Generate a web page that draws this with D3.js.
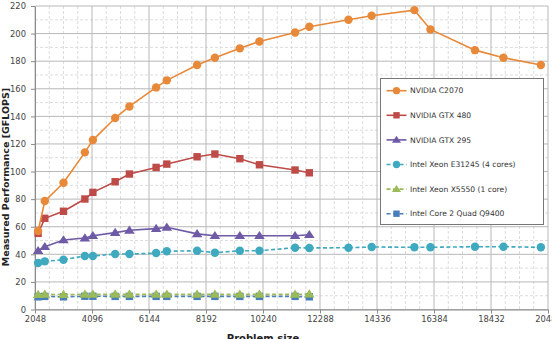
<!DOCTYPE html>
<html><head><meta charset="utf-8">
<script src="https://cdn.jsdelivr.net/npm/d3@7"></script>
<style>body{margin:0;background:#fff}svg{display:block}</style>
</head><body>
<svg id="c" width="552" height="339"></svg>
<script>
const xTicks = [2048,4096,6144,8192,10240,12288,14336,16384,18432,20480];
const yTicks = [0,20,40,60,80,100,120,140,160,180,200,220];

const xGpu = [2160,2400,3072,3840,4128,4928,5440,6400,6784,7872,8512,9408,10112,11392,11904];
const xLong = [2160,2400,3072,3840,4128,4928,5440,6400,6784,7872,8512,9408,10112,11392,11904,13312,14144,15680,16256,17856,18880,20224];

const c2070 = [56.9,78.6,91.9,113.9,122.8,138.8,147.2,161.0,166.1,177.2,182.5,189.3,194.3,200.8,204.9,210.0,212.9,217.0,203.0,188.0,182.5,177.2];
const gtx480 = [55.2,66.1,71.2,80.1,84.9,92.6,98.2,103.0,105.4,110.7,112.7,109.3,104.9,101.1,99.1];
const gtx295 = [42.6,45.5,50.4,51.8,53.5,55.7,57.4,58.6,59.6,54.8,53.5,53.5,53.5,53.5,54.2];
const e31245 = [33.7,34.9,36.1,38.8,38.8,40.2,40.2,40.9,42.2,42.6,41.2,42.6,42.6,44.8,44.6,44.8,45.3,45.1,45.1,45.5,45.5,45.1];
const x5550 = [10.8,11.0,10.8,11.0,11.0,11.0,11.0,11.0,11.0,11.0,11.0,11.0,11.0,11.0,11.2];
const q9400 = [9.2,9.5,9.2,9.6,9.6,9.5,9.5,9.5,9.5,9.5,9.5,9.5,9.5,9.5,9.2];

const seriesNames = ["NVIDIA C2070","NVIDIA GTX 480","NVIDIA GTX 295","Intel Xeon E31245 (4 cores)","Intel Xeon X5550 (1 core)","Intel Core 2 Quad Q9400"];
const series = [
  {name:seriesNames[0], xs:xLong, ys:c2070, color:"#E8893A", marker:"circle", dash:null},
  {name:seriesNames[1], xs:xGpu, ys:gtx480, color:"#BE4B48", marker:"square", dash:null},
  {name:seriesNames[2], xs:xGpu, ys:gtx295, color:"#6F5AA6", marker:"triangle", dash:null},
  {name:seriesNames[3], xs:xLong, ys:e31245, color:"#3FA9C0", marker:"circle", dash:"4,2.5"},
  {name:seriesNames[4], xs:xGpu, ys:x5550, color:"#9BBB59", marker:"triangle", dash:"4,2.5"},
  {name:seriesNames[5], xs:xGpu, ys:q9400, color:"#4A7EBB", marker:"square", dash:"4,2.5"}
];

const svg = d3.select("#c");
const L=35, R=548, T=6, B=309.5;
const x = d3.scaleLinear().domain([2048,20480]).range([L,R]);
const y = d3.scaleLinear().domain([0,220]).range([B,T]);

// minor grid
const g = svg.append("g");
const xMinor = d3.range(2048,20480,512).filter(v=>(v-2048)%2048!==0);
g.selectAll(".xm").data(xMinor).enter().append("line")
  .attr("x1",d=>x(d)).attr("x2",d=>x(d)).attr("y1",T).attr("y2",B)
  .attr("stroke","#d4d4d4").attr("stroke-width",0.8).attr("stroke-dasharray","3,2");
const yMinor = d3.range(10,220,20);
g.selectAll(".ym").data(yMinor).enter().append("line")
  .attr("x1",L).attr("x2",R).attr("y1",d=>y(d)).attr("y2",d=>y(d))
  .attr("stroke","#d4d4d4").attr("stroke-width",0.8).attr("stroke-dasharray","3,2");
// major grid
g.selectAll(".xM").data(xTicks).enter().append("line")
  .attr("x1",d=>x(d)).attr("x2",d=>x(d)).attr("y1",T).attr("y2",B)
  .attr("stroke","#b8b8b8").attr("stroke-width",1);
g.selectAll(".yM").data(yTicks).enter().append("line")
  .attr("x1",L).attr("x2",R).attr("y1",d=>y(d)).attr("y2",d=>y(d))
  .attr("stroke","#b8b8b8").attr("stroke-width",1);

// axes
const xAxis = svg.append("g").attr("transform",`translate(0,${B})`)
  .call(d3.axisBottom(x).tickValues(xTicks).tickFormat(d3.format("d")).tickSize(4).tickSizeOuter(0).tickPadding(3));
const yAxis = svg.append("g").attr("transform",`translate(${L},0)`)
  .call(d3.axisLeft(y).tickValues(yTicks).tickSize(4).tickSizeOuter(0).tickPadding(5));
[xAxis,yAxis].forEach(a=>{
  a.selectAll("path").attr("stroke","#8a8a8a");
  a.selectAll("line").attr("stroke","#8a8a8a");
  a.selectAll("text").attr("fill","#444").style("font-family","DejaVu Sans").style("font-size","8.4px");
});

// lines & markers
function drawMarker(sel, type, color, size){
  if(type==="circle"){
    sel.append("circle").attr("r",size*0.57).attr("fill",color);
  } else if(type==="square"){
    sel.append("rect").attr("x",-size*0.5).attr("y",-size*0.5).attr("width",size).attr("height",size).attr("fill",color);
  } else {
    const s=size*0.65;
    sel.append("path").attr("d",`M0,${-s} L${s*1.1},${s*0.7} L${-s*1.1},${s*0.7} Z`).attr("fill",color);
  }
}
const line = d3.line().x(d=>x(d[0])).y(d=>y(d[1]));
series.slice().reverse().forEach(s=>{
  const pts = s.xs.map((v,i)=>[v,s.ys[i]]);
  svg.append("path").datum(pts).attr("d",line).attr("fill","none")
    .attr("stroke",s.color).attr("stroke-width",1.6)
    .attr("stroke-dasharray",s.dash);
  svg.append("g").selectAll("g").data(pts).enter().append("g")
    .attr("transform",d=>`translate(${x(d[0])},${y(d[1])})`)
    .each(function(){drawMarker(d3.select(this),s.marker,s.color,7.4);});
});

// legend
const lg = svg.append("g");
lg.append("rect").attr("x",380.5).attr("y",78.5).attr("width",163).attr("height",146)
  .attr("fill","#fff").attr("stroke","#777").attr("stroke-width",1);
series.forEach((s,i)=>{
  const yy = 90.7 + i*24.6;
  lg.append("line").attr("x1",386.5).attr("x2",406.5).attr("y1",yy).attr("y2",yy)
    .attr("stroke",s.color).attr("stroke-width",1.6).attr("stroke-dasharray",s.dash);
  const m = lg.append("g").attr("transform",`translate(396.5,${yy})`);
  drawMarker(m,s.marker,s.color,6.4);
  lg.append("text").attr("x",410).attr("y",yy).attr("dy","0.35em")
    .style("font-family","DejaVu Sans").style("font-size","7.6px").attr("fill","#333").text(s.name);
});

// titles
svg.append("text").attr("x",263).attr("y",342).attr("text-anchor","middle")
  .style("font-family","DejaVu Sans").style("font-weight","bold").style("font-size","10px").attr("fill","#222")
  .text("Problem size");
svg.append("text").attr("transform","translate(9,177) rotate(-90)").attr("text-anchor","middle")
  .style("font-family","DejaVu Sans").style("font-weight","bold").style("font-size","9.5px").attr("fill","#222")
  .text("Measured Performance [GFLOPS]");
</script>
</body></html>
